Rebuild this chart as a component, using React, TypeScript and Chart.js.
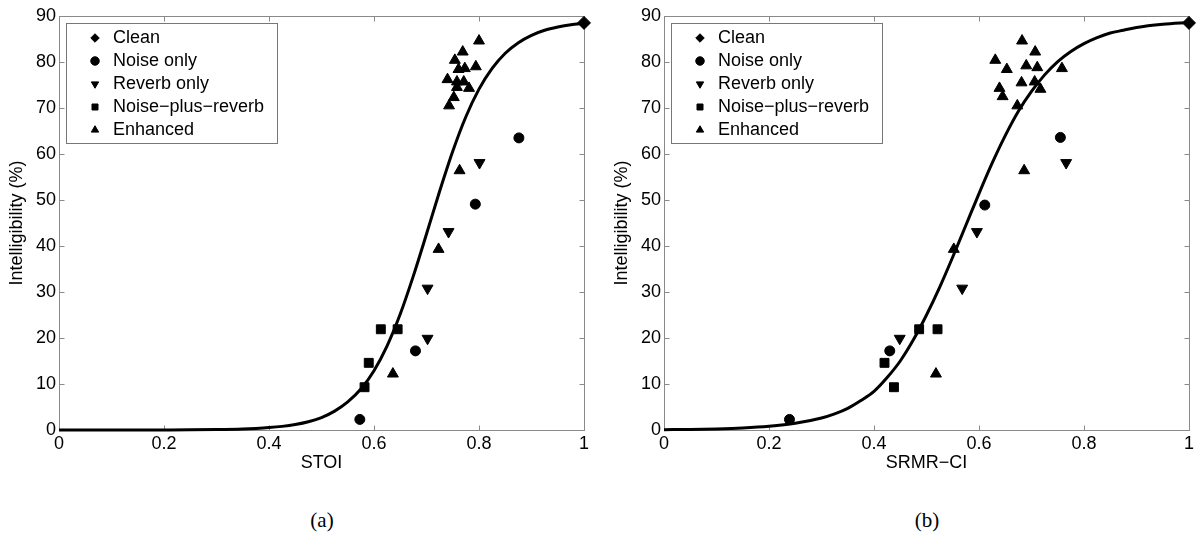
import React, { useEffect, useRef } from 'react';
import { Chart, registerables } from 'chart.js';

Chart.register(...registerables);

const FONT = '"Liberation Sans", Arial, Helvetica, sans-serif';
const AXIS_COLOR = '#8a8a8a';

// ---- shared labels / ticks ----
const seriesLabels = ['Clean', 'Noise only', 'Reverb only', 'Noise\u2212plus\u2212reverb', 'Enhanced'];
const xTicks = [0, 0.2, 0.4, 0.6, 0.8, 1];
const xTickLabels = ['0', '0.2', '0.4', '0.6', '0.8', '1'];
const yTicks = [0, 10, 20, 30, 40, 50, 60, 70, 80, 90];
const yTickLabels = ['0', '10', '20', '30', '40', '50', '60', '70', '80', '90'];
const yTitle = 'Intelligibility (%)';

// ---- panel (a): STOI ----
const cleanAX = [1.0];
const cleanAY = [88.5];
const noiseAX = [0.876, 0.793, 0.679, 0.573];
const noiseAY = [63.5, 49.1, 17.2, 2.3];
const reverbAX = [0.801, 0.742, 0.702, 0.702];
const reverbAY = [58.1, 43.1, 30.8, 19.9];
const nprAX = [0.613, 0.645, 0.59, 0.582];
const nprAY = [21.9, 21.9, 14.6, 9.3];
const enhAX = [0.8, 0.769, 0.754, 0.761, 0.773, 0.794, 0.74, 0.758, 0.771, 0.758, 0.781, 0.752, 0.743, 0.763, 0.723, 0.636];
const enhAY = [84.6, 82.2, 80.4, 78.4, 78.6, 79.0, 76.2, 75.7, 75.7, 74.5, 74.3, 72.3, 70.5, 56.4, 39.3, 12.2];
const curveAX = [0, 0.1, 0.2, 0.25, 0.3, 0.35, 0.375, 0.4, 0.425, 0.45, 0.475, 0.5, 0.525, 0.55, 0.575, 0.6, 0.625, 0.65, 0.675, 0.7, 0.725, 0.75, 0.775, 0.8, 0.825, 0.85, 0.875, 0.9, 0.925, 0.95, 0.975, 1];
const curveAY = [0, 0.0, 0.02, 0.04, 0.1, 0.22, 0.34, 0.52, 0.79, 1.2, 1.8, 2.7, 4.1, 6.1, 8.9, 12.9, 18.3, 25.2, 33.5, 42.6, 51.9, 60.6, 68.1, 74.1, 78.6, 81.9, 84.2, 85.8, 86.9, 87.6, 88.1, 88.4];

// ---- panel (b): SRMR-CI ----
const cleanBX = [1.0];
const cleanBY = [88.5];
const noiseBX = [0.755, 0.611, 0.43, 0.239];
const noiseBY = [63.6, 48.9, 17.2, 2.3];
const reverbBX = [0.766, 0.596, 0.568, 0.449];
const reverbBY = [58.1, 43.1, 30.8, 19.9];
const nprBX = [0.486, 0.521, 0.42, 0.438];
const nprBY = [21.9, 21.9, 14.6, 9.3];
const enhBX = [0.682, 0.707, 0.631, 0.653, 0.69, 0.711, 0.758, 0.681, 0.706, 0.717, 0.639, 0.645, 0.673, 0.686, 0.552, 0.518];
const enhBY = [84.6, 82.2, 80.4, 78.4, 79.2, 78.8, 78.6, 75.5, 75.7, 74.1, 74.3, 72.5, 70.5, 56.4, 39.3, 12.2];
const curveBX = [0, 0.05, 0.1, 0.15, 0.2, 0.25, 0.3, 0.325, 0.35, 0.375, 0.4, 0.425, 0.45, 0.475, 0.5, 0.525, 0.55, 0.575, 0.6, 0.625, 0.65, 0.675, 0.7, 0.725, 0.75, 0.775, 0.8, 0.825, 0.85, 0.875, 0.9, 0.95, 1];
const curveBY = [0.07, 0.12, 0.23, 0.43, 0.8, 1.45, 2.6, 3.5, 4.7, 6.4, 8.4, 11.4, 15.0, 19.6, 25.0, 31.0, 37.6, 44.5, 51.4, 58.0, 64.0, 69.3, 73.6, 77.2, 80.1, 82.3, 84.0, 85.3, 86.3, 86.9, 87.5, 88.2, 88.6];

function pts(xs: number[], ys: number[]) {
  return xs.map((x, i) => ({ x, y: ys[i] }));
}

function markerSet(label: string, xs: number[], ys: number[], style: string, radius: number, rotation = 0) {
  return {
    type: 'scatter',
    label,
    data: pts(xs, ys),
    pointStyle: style,
    pointRadius: radius,
    pointHoverRadius: radius,
    pointRotation: rotation,
    backgroundColor: '#000',
    borderColor: '#000',
    borderWidth: 1,
    showLine: false,
    clip: false,
    order: 0,
  };
}

const framePlugin = {
  id: 'matlabFrame',
  afterLayout(chart: any) {
    const lg = chart.legend;
    const a = chart.chartArea;
    if (!lg || !a) return;
    lg.left = a.left + 22;
    lg.top = a.top + 8;
    lg.right = lg.left + lg.width;
    lg.bottom = lg.top + lg.height;
  },
  beforeDraw(chart: any) {
    const { ctx, chartArea: a, scales } = chart;
    ctx.save();
    ctx.strokeStyle = AXIS_COLOR;
    ctx.lineWidth = 1;
    const L = Math.round(a.left) + 0.5;
    const R = Math.round(a.right) + 0.5;
    const T = Math.round(a.top) + 0.5;
    const B = Math.round(a.bottom) + 0.5;
    ctx.strokeRect(L, T, R - L, B - T);
    const tl = 5;
    ctx.beginPath();
    xTicks.forEach((v) => {
      const px = Math.round(scales.x.getPixelForValue(v)) + 0.5;
      ctx.moveTo(px, B);
      ctx.lineTo(px, B - tl);
      ctx.moveTo(px, T);
      ctx.lineTo(px, T + tl);
    });
    yTicks.forEach((v) => {
      const py = Math.round(scales.y.getPixelForValue(v)) + 0.5;
      ctx.moveTo(L, py);
      ctx.lineTo(L + tl, py);
      ctx.moveTo(R, py);
      ctx.lineTo(R - tl, py);
    });
    ctx.stroke();
    // legend frame
    const bx = Math.round(a.left + 7) + 0.5;
    const by = Math.round(a.top + 6.5) + 0.5;
    ctx.fillStyle = '#fff';
    ctx.fillRect(bx, by, 211, 120);
    ctx.strokeStyle = '#777';
    ctx.strokeRect(bx, by, 211, 120);
    ctx.restore();
  },
};

type PanelProps = {
  width: number;
  height: number;
  yAxisWidth: number;
  rightPad: number;
  yTitlePad: number;
  xTitle: string;
  curveX: number[];
  curveY: number[];
  sets: any[];
};

function Panel(p: PanelProps) {
  const ref = useRef<HTMLCanvasElement | null>(null);
  useEffect(() => {
    if (!ref.current) return;
    const datasets = [
      ...p.sets,
      {
        type: 'line',
        label: 'fit',
        data: pts(p.curveX, p.curveY),
        borderColor: '#000',
        backgroundColor: '#000',
        borderWidth: 3,
        pointRadius: 0,
        pointHoverRadius: 0,
        fill: false,
        cubicInterpolationMode: 'monotone',
        order: 10,
        clip: false,
      },
    ];
    const chart = new Chart(ref.current, {
      type: 'scatter',
      data: { datasets } as any,
      options: {
        responsive: false,
        animation: false,
        devicePixelRatio: 1,
        events: [],
        layout: { padding: { left: 0, right: p.rightPad, top: 16, bottom: 0 } },
        plugins: {
          tooltip: { enabled: false },
          legend: {
            display: true,
            position: 'chartArea',
            align: 'start',
            labels: {
              usePointStyle: true,
              boxHeight: 6,
              boxWidth: 18,
              padding: 5,
              color: '#000',
              font: { family: FONT, size: 18 },
              filter: (item: any) => item.text !== 'fit',
            },
          },
        },
        scales: {
          x: {
            type: 'linear',
            position: 'bottom',
            min: 0,
            max: 1,
            afterBuildTicks: (s: any) => {
              s.ticks = xTicks.map((v) => ({ value: v }));
            },
            afterFit: (s: any) => {
              s.height = p.height - 430;
            },
            grid: { display: false, drawTicks: false },
            border: { display: false },
            ticks: {
              padding: 3,
              color: '#000',
              font: { family: FONT, size: 18 },
              maxRotation: 0,
              autoSkip: false,
              callback: (_v: any, i: number) => xTickLabels[i],
            },
            title: {
              display: true,
              text: p.xTitle,
              color: '#000',
              font: { family: FONT, size: 18 },
              padding: { top: 0, bottom: 11 },
            },
          },
          y: {
            type: 'linear',
            min: 0,
            max: 90,
            afterBuildTicks: (s: any) => {
              s.ticks = yTicks.map((v) => ({ value: v }));
            },
            afterFit: (s: any) => {
              s.width = p.yAxisWidth;
            },
            grid: { display: false, drawTicks: false },
            border: { display: false },
            ticks: {
              padding: 3,
              color: '#000',
              font: { family: FONT, size: 18 },
              autoSkip: false,
              callback: (_v: any, i: number) => yTickLabels[i],
            },
            title: {
              display: true,
              text: yTitle,
              color: '#000',
              font: { family: FONT, size: 18 },
              padding: { top: p.yTitlePad, bottom: 0 },
            },
          },
        },
      } as any,
      plugins: [framePlugin as any],
    });
    return () => chart.destroy();
  }, []);
  return <canvas ref={ref} width={p.width} height={p.height} style={{ display: 'block', width: p.width, height: p.height }} />;
}

export default function App() {
  const setsA = [
    markerSet(seriesLabels[0], cleanAX, cleanAY, 'rectRot', 6.5),
    markerSet(seriesLabels[1], noiseAX, noiseAY, 'circle', 5),
    markerSet(seriesLabels[2], reverbAX, reverbAY, 'triangle', 6.3, 180),
    markerSet(seriesLabels[3], nprAX, nprAY, 'rect', 6.3),
    markerSet(seriesLabels[4], enhAX, enhAY, 'triangle', 6.3),
  ];
  const setsB = [
    markerSet(seriesLabels[0], cleanBX, cleanBY, 'rectRot', 6.5),
    markerSet(seriesLabels[1], noiseBX, noiseBY, 'circle', 5),
    markerSet(seriesLabels[2], reverbBX, reverbBY, 'triangle', 6.3, 180),
    markerSet(seriesLabels[3], nprBX, nprBY, 'rect', 6.3),
    markerSet(seriesLabels[4], enhBX, enhBY, 'triangle', 6.3),
  ];
  const caption: React.CSSProperties = {
    position: 'absolute',
    top: 506,
    width: 100,
    textAlign: 'center',
    font: '21px "Liberation Serif", "Times New Roman", serif',
    lineHeight: '28px',
    color: '#000',
  };
  return (
    <div style={{ position: 'absolute', left: 0, top: 0, width: 1202, height: 535, background: '#fff', overflow: 'hidden' }}>
      <div style={{ position: 'absolute', left: 0, top: 0 }}>
        <Panel width={600} height={485} yAxisWidth={59} rightPad={16} yTitlePad={6} xTitle="STOI" curveX={curveAX} curveY={curveAY} sets={setsA} />
      </div>
      <div style={{ position: 'absolute', left: 600, top: 0 }}>
        <Panel width={602} height={485} yAxisWidth={64} rightPad={13} yTitlePad={11} xTitle={'SRMR\u2212CI'} curveX={curveBX} curveY={curveBY} sets={setsB} />
      </div>
      <div style={{ ...caption, left: 272 }}>(a)</div>
      <div style={{ ...caption, left: 877 }}>(b)</div>
    </div>
  );
}
